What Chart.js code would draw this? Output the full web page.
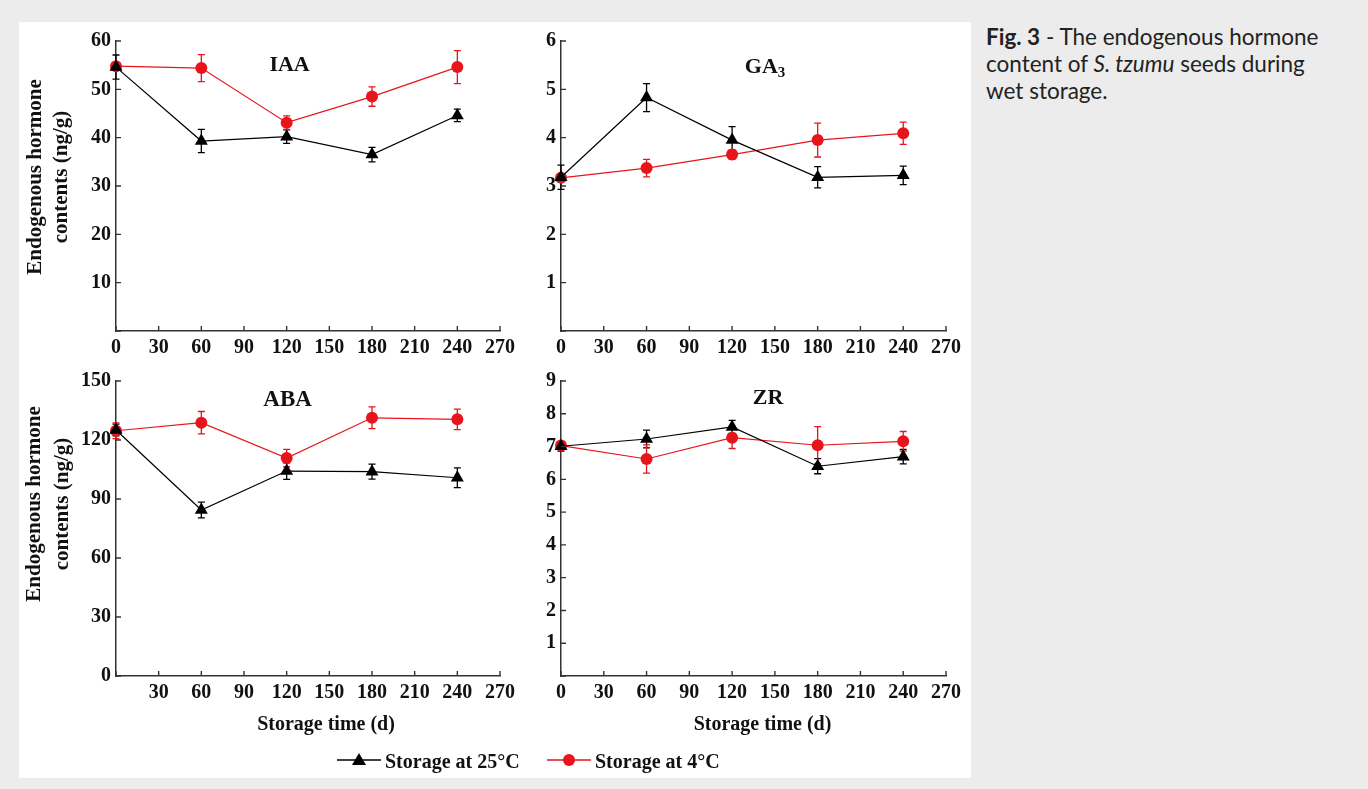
<!DOCTYPE html>
<html>
<head>
<meta charset="utf-8">
<script src="https://cdn.jsdelivr.net/npm/chart.js@4.4.0/dist/chart.umd.min.js"></script>
<style>
body { margin:0; background:#ececec; width:1368px; height:789px; overflow:hidden; position:relative; }
#panel { position:absolute; left:19px; top:22px; width:952px; height:756px; background:#fff; }
canvas { position:absolute; }
#legend { position:absolute; left:0; top:750px; width:1000px; height:26px; font:bold 20px "Liberation Serif", serif; color:#111; }
#legend .item { position:absolute; top:0; white-space:nowrap; }
#legend svg { vertical-align:middle; margin-right:4px; position:relative; top:-3px; }
#caption { position:absolute; left:986px; top:23px; font:22.5px Lato, sans-serif; line-height:27px; color:#222; }
</style>
</head>
<body>
<div id="panel"></div>
<canvas id="cIAA" width="500" height="336" style="left:20px;top:24px"></canvas>
<canvas id="cGA" width="450" height="336" style="left:520px;top:24px"></canvas>
<canvas id="cABA" width="500" height="414" style="left:20px;top:364px"></canvas>
<canvas id="cZR" width="450" height="414" style="left:520px;top:364px"></canvas>
<div id="legend">
  <span class="item" style="left:337px"><svg width="44" height="20"><line x1="0" y1="10" x2="44" y2="10" stroke="#000" stroke-width="1.3"/><polygon points="22,3 29,15 15,15" fill="#000"/></svg>Storage at 25°C</span>
  <span class="item" style="left:547px"><svg width="44" height="20"><line x1="0" y1="10" x2="44" y2="10" stroke="#e8141c" stroke-width="1.3"/><circle cx="22" cy="10" r="6" fill="#e8141c"/></svg>Storage at 4°C</span>
</div>
<div id="caption"><b>Fig. 3</b> - The endogenous hormone<br>content of <i>S. tzumu</i> seeds during<br>wet storage.</div>
<script>
var days = [0, 60, 120, 180, 240];

var iaa25 = [54.6, 39.3, 40.2, 36.5, 44.6];
var iaa25Err = [2.5, 2.4, 1.4, 1.5, 1.3];
var iaa4 = [54.8, 54.4, 43.1, 48.5, 54.6];
var iaa4Err = [0.5, 2.8, 1.4, 2.0, 3.4];

var ga25 = [3.18, 4.83, 3.95, 3.18, 3.22];
var ga25Err = [0.25, 0.29, 0.28, 0.22, 0.19];
var ga4 = [3.17, 3.37, 3.65, 3.95, 4.09];
var ga4Err = [0.08, 0.18, 0.1, 0.35, 0.23];

var aba25 = [125.1, 84.4, 104.2, 103.9, 100.8];
var aba25Err = [3, 4, 4.2, 3.8, 5];
var aba4 = [124.7, 128.8, 110.8, 131.3, 130.5];
var aba4Err = [4, 5.7, 4.4, 5.5, 5.2];

var zr25 = [7.01, 7.23, 7.6, 6.4, 6.69];
var zr25Err = [0.15, 0.27, 0.2, 0.23, 0.22];
var zr4 = [7.03, 6.62, 7.27, 7.04, 7.16];
var zr4Err = [0.12, 0.43, 0.33, 0.57, 0.3];

var yTitle = ['Endogenous hormone', 'contents (ng/g)'];
var xTitle = 'Storage time (d)';
var black = '#000000';
var red = '#e8141c';
var serif = '"Liberation Serif", "Times New Roman", serif';

function pts(vals) {
  return days.map(function(d, i) { return {x: d, y: vals[i]}; });
}

// vertical error bars with caps, drawn under the markers
var errorBars = {
  id: 'errorBars',
  beforeDatasetsDraw: function(chart) {
    var ctx = chart.ctx, xs = chart.scales.x, ys = chart.scales.y;
    chart.data.datasets.forEach(function(ds) {
      if (!ds.errors) return;
      ctx.save();
      ctx.strokeStyle = ds.borderColor;
      ctx.lineWidth = 1.3;
      ctx.beginPath();
      ds.data.forEach(function(p, i) {
        var x = xs.getPixelForValue(p.x);
        var y1 = ys.getPixelForValue(p.y + ds.errors[i]);
        var y2 = ys.getPixelForValue(p.y - ds.errors[i]);
        ctx.moveTo(x, y1); ctx.lineTo(x, y2);
        ctx.moveTo(x - 3.5, y1); ctx.lineTo(x + 3.5, y1);
        ctx.moveTo(x - 3.5, y2); ctx.lineTo(x + 3.5, y2);
      });
      ctx.stroke();
      ctx.restore();
    });
  }
};

// tick marks pointing into the plot
var innerTicks = {
  id: 'innerTicks',
  afterDraw: function(chart) {
    var ctx = chart.ctx, xs = chart.scales.x, ys = chart.scales.y;
    ctx.save();
    ctx.strokeStyle = '#333';
    ctx.lineWidth = 1.4;
    ctx.beginPath();
    xs.ticks.forEach(function(t) {
      var px = xs.getPixelForValue(t.value);
      ctx.moveTo(px, xs.top); ctx.lineTo(px, xs.top - 5);
    });
    ys.ticks.forEach(function(t) {
      var py = ys.getPixelForValue(t.value);
      ctx.moveTo(ys.right, py); ctx.lineTo(ys.right + 5, py);
    });
    ctx.stroke();
    ctx.restore();
  }
};

// hormone name inside the plot, the two-line y title and the x title
var panelText = {
  id: 'panelText',
  afterDraw: function(chart, args, o) {
    var ctx = chart.ctx, a = chart.chartArea;
    ctx.save();
    ctx.fillStyle = '#111';
    ctx.textBaseline = 'middle';
    var cx = a.left + o.fx * (a.right - a.left), cy = a.top + o.dy;
    ctx.font = 'bold ' + o.size + 'px ' + serif;
    var w = ctx.measureText(o.name).width, ws = 0;
    if (o.sub) {
      ctx.font = 'bold 15px ' + serif;
      ws = ctx.measureText(o.sub).width;
    }
    var left = cx - (w + ws) / 2;
    ctx.textAlign = 'left';
    ctx.font = 'bold ' + o.size + 'px ' + serif;
    ctx.fillText(o.name, left, cy);
    if (o.sub) {
      ctx.font = 'bold 15px ' + serif;
      ctx.fillText(o.sub, left + w, cy + 6);
    }
    ctx.textAlign = 'center';
    if (o.yTitle) {
      ctx.font = 'bold 21px ' + serif;
      o.yTitle.forEach(function(line, i) {
        ctx.save();
        ctx.translate(o.yTitleX[i], o.yTitleCy);
        ctx.rotate(-Math.PI / 2);
        ctx.fillText(line, 0, 0);
        ctx.restore();
      });
    }
    if (o.xTitle) {
      ctx.font = 'bold 20px ' + serif;
      ctx.fillText(o.xTitle, (a.left + a.right) / 2 + o.xTitleDx, a.bottom + o.xTitleDy);
    }
    ctx.restore();
  }
};

function makeChart(id, s25, e25, s4, e4, cfg) {
  var tickFont = {family: serif, size: 20, weight: 'bold'};
  return new Chart(document.getElementById(id), {
    type: 'line',
    data: {
      datasets: [{
        label: 'Storage at 25°C',
        data: pts(s25),
        errors: e25,
        borderColor: black,
        backgroundColor: black,
        borderWidth: 1.2,
        pointStyle: 'triangle',
        pointRadius: 7.5,
        pointBorderWidth: 0,
        clip: false
      }, {
        label: 'Storage at 4°C',
        data: pts(s4),
        errors: e4,
        borderColor: red,
        backgroundColor: red,
        borderWidth: 1.2,
        pointStyle: 'circle',
        pointRadius: 6,
        pointBorderWidth: 0,
        clip: false
      }]
    },
    options: {
      responsive: false,
      animation: false,
      events: [],
      layout: {padding: {top: cfg.padTop, right: cfg.padRight, left: 0, bottom: 0}},
      plugins: {
        legend: {display: false},
        tooltip: {enabled: false},
        panelText: cfg.text
      },
      scales: {
        x: {
          type: 'linear', min: 0, max: 270,
          grid: {display: false, drawTicks: false},
          border: {display: true, color: '#333', width: 1.5},
          ticks: {
            stepSize: 30, padding: 5, color: '#111', font: tickFont, maxRotation: 0, autoSkip: false,
            callback: function(v) { return (cfg.hideX0 && v === 0) ? '' : v; }
          },
          afterFit: function(s) { s.height = cfg.xHeight; }
        },
        y: {
          min: 0, max: cfg.yMax,
          grid: {display: false, drawTicks: false},
          border: {display: true, color: '#333', width: 1.5},
          ticks: {
            stepSize: cfg.yStep, padding: 5, color: '#111', font: tickFont,
            callback: function(v) { return (cfg.hideY0 && v === 0) ? '' : v; }
          },
          afterFit: function(s) { s.width = cfg.yWidth; }
        }
      }
    },
    plugins: [errorBars, innerTicks, panelText]
  });
}

makeChart('cIAA', iaa25, iaa25Err, iaa4, iaa4Err, {
  padTop: 13, padRight: 19, xHeight: 29, yWidth: 96, yMax: 60, yStep: 10,
  hideY0: true, hideX0: false,
  text: {name: 'IAA', size: 22, fx: 0.452, dy: 24, yTitle: yTitle, yTitleX: [16, 42], yTitleCy: 153}
});
makeChart('cGA', ga25, ga25Err, ga4, ga4Err, {
  padTop: 13, padRight: 24, xHeight: 29, yWidth: 41, yMax: 6, yStep: 1,
  hideY0: true, hideX0: false,
  text: {name: 'GA', sub: '3', size: 22, fx: 0.53, dy: 26}
});
makeChart('cABA', aba25, aba25Err, aba4, aba4Err, {
  padTop: 17, padRight: 19, xHeight: 102, yWidth: 96, yMax: 150, yStep: 30,
  hideY0: false, hideX0: true,
  text: {name: 'ABA', size: 23, fx: 0.447, dy: 19, yTitle: yTitle, yTitleX: [15, 43], yTitleCy: 140,
         xTitle: xTitle, xTitleDx: 18, xTitleDy: 49}
});
makeChart('cZR', zr25, zr25Err, zr4, zr4Err, {
  padTop: 17, padRight: 24, xHeight: 102, yWidth: 41, yMax: 9, yStep: 1,
  hideY0: true, hideX0: false,
  text: {name: 'ZR', size: 22, fx: 0.538, dy: 17, xTitle: xTitle, xTitleDx: 9, xTitleDy: 49}
});
</script>
</body>
</html>
